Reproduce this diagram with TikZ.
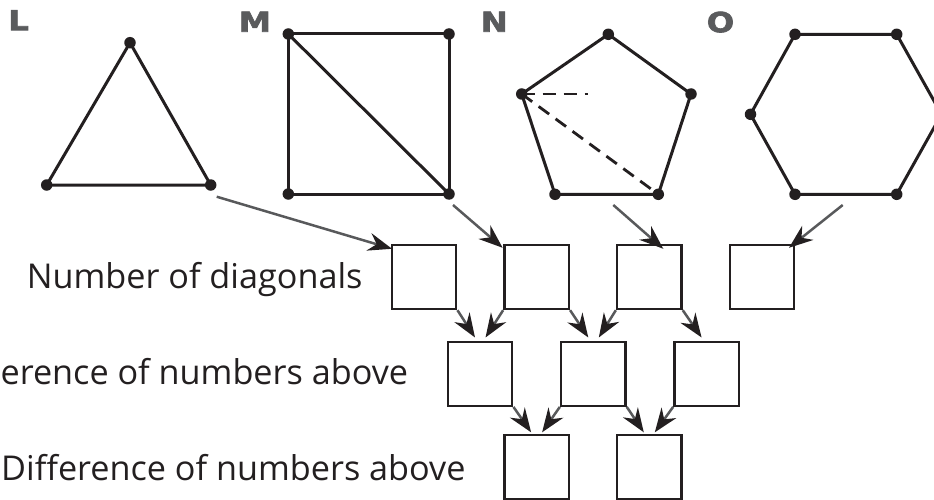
\documentclass[tikz,border=0pt]{standalone}
\usepackage{fontspec}
\setmainfont{Open Sans}
\newfontfamily\labfont[BoldFeatures={FakeBold=2.5,FakeStretch=1.18}]{DejaVu Sans}
\usetikzlibrary{arrows.meta,calc}
\definecolor{ink}{HTML}{231F20}
\definecolor{arrgray}{HTML}{58595B}
\definecolor{letgray}{HTML}{5A5B5D}
\tikzset{
  poly/.style={draw=ink,line width=3pt,line join=round},
  dashd/.style={draw=ink,line width=2.8pt,dash pattern=on 13pt off 8pt},
  vdot/.style={circle,fill=ink,inner sep=0pt,minimum size=11.5pt},
  box/.style={draw=ink,line width=2.4pt,minimum width=64.5pt,minimum height=64pt,inner sep=0pt},
  conn/.style={draw=arrgray,line width=2.5pt,-{Stealth[length=24pt,width=18pt,inset=8pt,color=ink,fill=ink]}},
  letter/.style={text=letgray,font=\labfont\bfseries\fontsize{27.5}{28}\selectfont,inner sep=0pt,anchor=north west},
  caption/.style={text=ink,font=\fontsize{34.2}{38}\selectfont,inner sep=0pt,anchor=base east}
}
\begin{document}
\begin{tikzpicture}[x=1pt,y=-1pt]
\useasboundingbox (0,0) rectangle (934,500);
\clip (0,0) rectangle (934,500);
% letters
\node[letter] (lL) at (8,10) {L};
\node[letter] (lM) at (238.5,11.5) {M};
\node[letter] (lN) at (480.5,11.5) {N};
\node[letter] (lO) at (706.5,11.5) {O};
% triangle L
\coordinate (t1) at (130,42.7);
\coordinate (t2) at (46.7,185);
\coordinate (t3) at (210.7,185);
\draw[poly] (t1) -- (t2) -- (t3) -- cycle;
% square M
\coordinate (s1) at (288.3,34);
\coordinate (s2) at (449,34);
\coordinate (s3) at (449,194);
\coordinate (s4) at (288.3,194);
\draw[poly] (s1) -- (s2) -- (s3) -- (s4) -- cycle;
\draw[poly] (s1) -- (s3);
% pentagon N
\coordinate (p1) at (608.3,34.3);
\coordinate (p2) at (691,94);
\coordinate (p3) at (658.3,194.3);
\coordinate (p4) at (555,194.3);
\coordinate (p5) at (521.7,94);
\coordinate (pd) at (588.3,94);
\draw[poly] (p1) -- (p2) -- (p3) -- (p4) -- (p5) -- cycle;
\draw[dashd] (p5) -- (pd);
\draw[dashd] (p5) -- ($(p5)!0.95!(p3)$);
% hexagon O
\coordinate (h1) at (795,34.3);
\coordinate (h2) at (896.7,34.3);
\coordinate (h3) at (941.5,114.3);
\coordinate (h4) at (896.7,194.3);
\coordinate (h5) at (795,194.3);
\coordinate (h6) at (750.5,114.3);
\draw[poly] (h1) -- (h2) -- (h3) -- (h4) -- (h5) -- (h6) -- cycle;
% dots
\foreach \p in {t1,t2,t3,s1,s2,s3,s4,p1,p2,p3,p4,p5,h1,h2,h4,h5,h6}
  \node[vdot] at (\p) {};
% boxes
\node[box] (a1) at (424,277) {};
\node[box] (a2) at (536.6,277) {};
\node[box] (a3) at (649.3,277) {};
\node[box] (a4) at (762,277) {};
\node[box] (b1) at (480,373.7) {};
\node[box] (b2) at (593.3,373.7) {};
\node[box] (b3) at (706.6,373.7) {};
\node[box] (c1) at (536.6,467) {};
\node[box] (c2) at (649.3,467) {};
% captions
\node[caption] (cap1) at (362.7,288.3) {Number of diagonals};
\node[caption] (cap2) at (408.3,384.3) {erence of numbers above};
\node[caption] (cap3) at (465.7,480) {Difference of numbers above};
% arrows from shapes
\coordinate (oL) at (216.7,196.7);
\coordinate (oM) at (453,205);
\coordinate (oN) at (613.3,205);
\coordinate (oO) at (842.7,205);
\draw[conn] (oL) -- ($(a1.north west)+(1.5,5)$);
\draw[conn] (oM) -- ($(a2.north west)+(-0.5,4)$);
\draw[conn] (oN) -- ($(a3.north)+(14,5)$);
\draw[conn] (oO) -- ($(a4.north)+(27,4)$);
% arrows between rows
\draw[conn] (a1.south east) -- ($(b1.north)+(-5,-3)$);
\draw[conn] (a2.south west) -- ($(b1.north)+(5.5,-3)$);
\draw[conn] (a2.south east) -- ($(b2.north)+(-5,-3)$);
\draw[conn] (a3.south west) -- ($(b2.north)+(5.5,-3)$);
\draw[conn] (a3.south east) -- ($(b3.north)+(-5,-3)$);
\draw[conn] (b1.south east) -- ($(c1.north)+(-5.5,-1.5)$);
\draw[conn] (b2.south west) -- ($(c1.north)+(5.5,-1.5)$);
\draw[conn] (b2.south east) -- ($(c2.north)+(-5.5,-1.5)$);
\draw[conn] (b3.south west) -- ($(c2.north)+(5.5,-1.5)$);
\end{tikzpicture}
\end{document}
